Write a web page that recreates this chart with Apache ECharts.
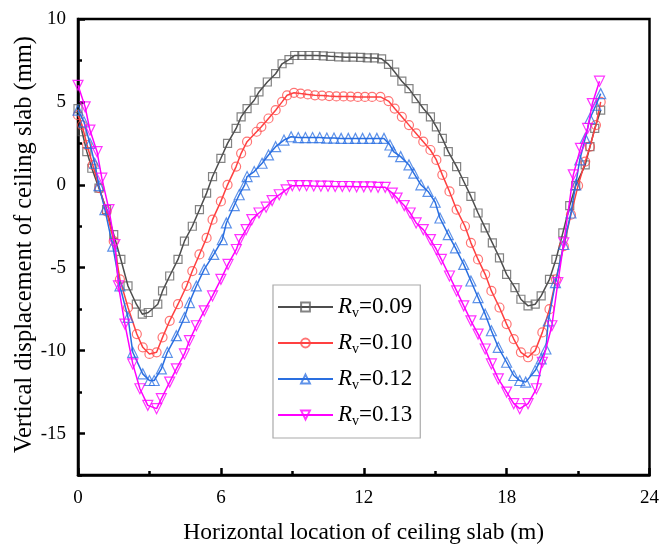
<!DOCTYPE html>
<html>
<head>
<meta charset="utf-8">
<script src="https://cdn.jsdelivr.net/npm/echarts@6/dist/echarts.min.js"></script>
<style>html,body{margin:0;padding:0;background:#fff}#c{width:662px;height:550px}</style>
</head>
<body>
<div id="c"></div>
<script>
// ---- data ----
const seriesNames = ['0.09', '0.10', '0.12', '0.13'];
const xTicks = [0, 6, 12, 18, 24];
const yTickLabels = [-15, -10, -5, 0, 5, 10];
const yMinorTicks = [-17.5, -12.5, -7.5, -2.5, 2.5, 7.5];

const x09 = [0,0.17,0.37,0.58,0.88,1.2,1.5,1.8,2.1,2.45,2.7,2.95,3.35,3.55,3.85,4.2,4.47,4.8,5.1,5.4,5.65,6.0,6.28,6.64,6.85,7.1,7.4,7.6,7.95,8.3,8.57,8.86,9.1,9.4,9.7,10.0,10.3,10.6,10.95,11.25,11.55,11.87,12.15,12.45,12.75,13.04,13.3,13.6,13.9,14.2,14.5,14.8,15.05,15.3,15.55,15.9,16.2,16.5,16.8,17.1,17.4,17.7,18.0,18.35,18.6,18.9,19.2,19.45,19.8,20.07,20.36,20.65,20.9,21.3,21.5,21.7,21.95];
const y09 = [4.6,3.2,2.0,1.0,-0.2,-1.5,-3.0,-4.5,-6.1,-7.2,-7.8,-7.7,-7.2,-6.4,-5.5,-4.5,-3.4,-2.5,-1.5,-0.5,0.5,1.6,2.5,3.4,4.1,4.6,5.1,5.6,6.2,6.7,7.3,7.55,7.8,7.8,7.8,7.8,7.78,7.75,7.72,7.7,7.7,7.68,7.66,7.65,7.6,7.26,6.8,6.25,5.8,5.2,4.6,4.1,3.5,2.8,2.0,1.1,0.2,-0.7,-1.7,-2.6,-3.5,-4.4,-5.4,-6.2,-6.9,-7.3,-7.2,-6.7,-5.7,-4.5,-2.9,-1.25,-0.05,1.2,2.3,3.4,4.5];

const x10 = [0,0.17,0.38,0.62,0.9,1.2,1.5,1.76,2.1,2.47,2.72,3.0,3.3,3.55,3.85,4.2,4.56,4.8,5.1,5.4,5.65,6.0,6.28,6.64,6.85,7.1,7.5,7.7,8.0,8.3,8.57,8.78,9.07,9.35,9.65,9.95,10.25,10.55,10.85,11.15,11.45,11.75,12.05,12.35,12.7,13.04,13.3,13.6,13.9,14.2,14.5,14.8,15.05,15.3,15.6,15.9,16.25,16.5,16.8,17.1,17.36,17.7,18.0,18.3,18.6,18.9,19.2,19.5,19.8,20.07,20.4,20.7,21.0,21.3,21.5,21.75,21.95];
const y10 = [4.2,3.6,2.4,1.2,-0.2,-1.6,-3.4,-5.7,-7.4,-9.0,-9.8,-10.2,-10.1,-9.2,-8.2,-7.2,-6.1,-5.2,-4.2,-3.2,-2.1,-1.0,0,1.1,1.9,2.6,3.2,3.5,4.0,4.5,5.0,5.4,5.55,5.5,5.45,5.4,5.38,5.35,5.33,5.33,5.32,5.3,5.3,5.3,5.3,5.05,4.6,4.1,3.6,3.1,2.6,2.1,1.5,0.6,-0.4,-1.5,-2.5,-3.5,-4.5,-5.4,-6.4,-7.4,-8.4,-9.3,-10.1,-10.4,-10.0,-8.9,-7.5,-5.7,-3.7,-1.8,-0.05,1.4,2.3,3.6,5.0];

const x12 = [0,0.25,0.5,0.7,0.88,1.13,1.46,1.76,2.1,2.3,2.72,3.0,3.2,3.5,3.75,4.13,4.47,4.68,4.97,5.3,5.7,6.06,6.23,6.56,6.77,7.0,7.1,7.4,7.73,8.0,8.3,8.65,8.95,9.25,9.55,9.85,10.15,10.45,10.75,11.05,11.35,11.65,11.95,12.25,12.55,12.85,13.1,13.25,13.55,13.9,14.1,14.4,14.7,15.0,15.2,15.55,15.85,16.2,16.5,16.8,17.1,17.36,17.65,18.0,18.3,18.55,18.8,19.2,19.45,19.65,19.75,20.05,20.4,20.7,20.9,21.07,21.3,21.5,21.75,21.95];
const y12 = [4.5,3.8,2.5,1.3,-0.05,-1.5,-3.7,-6.1,-8.0,-10.1,-11.4,-11.8,-11.8,-11.1,-10.1,-9.1,-8.0,-7.1,-6.1,-5.1,-4.2,-3.3,-2.3,-1.25,-0.6,0,0.5,0.8,1.3,1.8,2.3,2.7,2.9,2.85,2.85,2.85,2.85,2.82,2.82,2.8,2.8,2.8,2.8,2.8,2.8,2.8,2.4,2.0,1.7,1.2,0.7,0,-0.4,-1.05,-2.0,-3.0,-3.8,-4.8,-5.8,-6.8,-7.8,-8.8,-9.8,-10.7,-11.5,-11.8,-11.9,-11.2,-10.5,-9.9,-8.2,-5.9,-3.6,-1.7,0,1.5,2.8,4.0,4.8,5.5];

const x13 = [0,0.3,0.5,0.8,1.0,1.3,1.55,1.7,1.97,2.3,2.6,2.93,3.3,3.5,3.85,4.13,4.47,4.68,4.97,5.3,5.65,6.0,6.3,6.65,6.8,7.06,7.3,7.6,7.9,8.15,8.45,8.74,9.0,9.3,9.6,9.9,10.2,10.5,10.8,11.1,11.4,11.7,12.0,12.3,12.6,12.9,13.2,13.4,13.7,13.95,14.2,14.5,14.8,15.05,15.26,15.6,15.9,16.2,16.5,16.8,17.1,17.36,17.65,18.0,18.3,18.55,18.9,19.25,19.5,19.9,20.15,20.4,20.8,21.1,21.4,21.6,21.9];
const y13 = [6.0,4.7,3.3,2.0,0.4,-1.5,-3.6,-6.1,-8.4,-10.8,-12.3,-13.3,-13.5,-12.9,-11.9,-11.1,-10.2,-9.4,-8.5,-7.6,-6.7,-5.7,-4.8,-3.9,-3.3,-2.7,-2.1,-1.7,-1.35,-0.95,-0.6,-0.3,-0.05,-0.05,-0.05,-0.07,-0.08,-0.08,-0.1,-0.1,-0.1,-0.12,-0.12,-0.12,-0.15,-0.15,-0.5,-0.8,-1.25,-1.7,-2.3,-2.7,-3.3,-3.9,-4.5,-5.5,-6.4,-7.3,-8.2,-9.0,-9.9,-10.8,-11.7,-12.5,-13.2,-13.5,-13.2,-12.3,-10.7,-8.5,-5.9,-3.5,0.6,2.2,3.4,4.9,6.25];

const xs = [x09, x10, x12, x13];
const ys = [y09, y10, y12, y13];

// ---- style ----
const lineColors = ['#4d4d4d', '#ff4040', '#2a6fe0', '#ff00ff'];
const markColors = ['rgba(90,90,90,0.75)', 'rgba(255,70,70,0.75)', 'rgba(40,110,225,0.75)', 'rgba(255,0,255,0.8)'];
const symbols = ['rect', 'circle', 'triangle', 'triangle'];
const rotates = [0, 0, 0, 180];
const FONT = 'Liberation Serif, Times New Roman, serif';

const series = seriesNames.map((n, i) => ({
  name: n,
  type: 'line',
  data: xs[i].map((x, k) => [x, ys[i][k]]),
  symbol: symbols[i],
  symbolRotate: rotates[i],
  symbolSize: i === 1 ? 9 : (i === 0 ? 8 : 10),
  showSymbol: true,
  lineStyle: { color: lineColors[i], width: 1.5 },
  itemStyle: { color: 'rgba(255,255,255,0)', borderColor: markColors[i], borderWidth: 1.2 },
  emphasis: { disabled: true },
  animation: false,
  z: 2 + i
}));

const chart = echarts.init(document.getElementById('c'), null, { renderer: 'canvas' });
chart.setOption({
  animation: false,
  backgroundColor: '#fff',
  grid: { left: 78, right: 10, top: 19, bottom: 68, show: true, borderColor: '#000', borderWidth: 2.5, backgroundColor: 'transparent' },
  legend: {
    data: seriesNames,
    orient: 'vertical',
    left: 273, top: 285,
    padding: [9, 8, 10, 4],
    itemWidth: 55, itemHeight: 11, itemGap: 10,
    borderColor: '#aaa', borderWidth: 1.2,
    backgroundColor: '#fff',
    formatter: n => '{i|R}{s|v}{n|=' + n + '}',
    textStyle: {
      padding: [0, 0, 0, 0],
      rich: {
        i: { fontFamily: FONT, fontStyle: 'italic', fontSize: 23, color: '#000', lineHeight: 25 },
        s: { fontFamily: FONT, fontSize: 14, color: '#000', padding: [12, 0, 0, 0], lineHeight: 25 },
        n: { fontFamily: FONT, fontSize: 23, color: '#000', lineHeight: 25 }
      }
    }
  },
  xAxis: {
    type: 'value', min: 0, max: 24, interval: 6,
    name: 'Horizontal location of ceiling slab (m)',
    nameLocation: 'middle', nameGap: 46,
    nameTextStyle: { fontFamily: FONT, fontSize: 23.5, color: '#000' },
    axisLine: { show: true, onZero: false, lineStyle: { color: '#000', width: 2.5 } },
    axisTick: { show: true, inside: true, length: 7, lineStyle: { color: '#000', width: 2.5 } },
    minorTick: { show: true, splitNumber: 2, length: 4, lineStyle: { color: '#000', width: 2.5 } },
    axisLabel: { fontFamily: FONT, fontSize: 19, color: '#000', margin: 14, customValues: xTicks },
    splitLine: { show: false }
  },
  yAxis: [{
    type: 'value', min: -17.5, max: 10,
    name: 'Vertical displacement of ceiling slab (mm)',
    nameLocation: 'middle', nameGap: 41, nameMoveOverlap: false,
    nameTextStyle: { fontFamily: FONT, fontSize: 24.5, color: '#000', padding: [0, 0, 0, 5] },
    axisLine: { show: true, onZero: false, lineStyle: { color: '#000', width: 2.5 } },
    axisTick: { show: true, inside: true, length: 7, customValues: yTickLabels, lineStyle: { color: '#000', width: 2.5 } },
    axisLabel: { fontFamily: FONT, fontSize: 19, color: '#000', margin: 12, customValues: yTickLabels },
    splitLine: { show: false }
  }, {
    type: 'value', min: -17.5, max: 10, position: 'left',
    axisLine: { show: false },
    axisTick: { show: true, inside: true, length: 4, customValues: yMinorTicks, lineStyle: { color: '#000', width: 2.5 } },
    axisLabel: { show: false },
    splitLine: { show: false }
  }],
  series: series
});
</script>
</body>
</html>
